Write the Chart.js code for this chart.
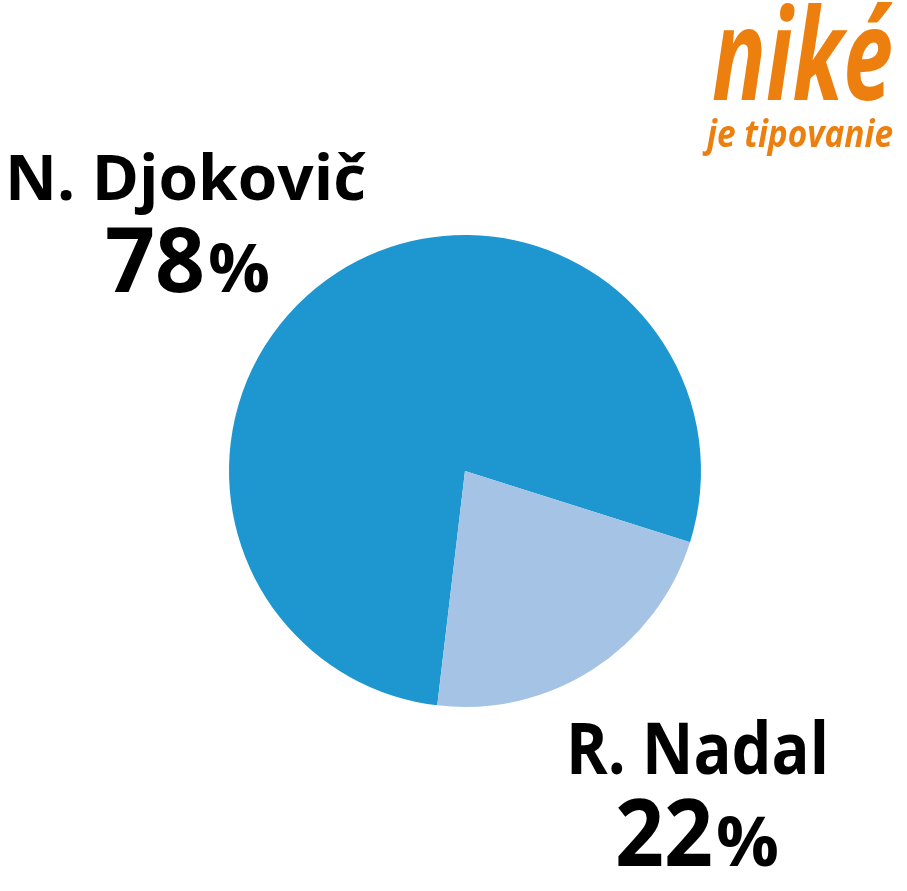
<!DOCTYPE html>
<html>
<head>
<meta charset="utf-8">
<script src="https://cdn.jsdelivr.net/npm/chart.js@4/dist/chart.umd.min.js"></script>
<style>
	html, body { margin: 0; padding: 0; background: #fff; }
	canvas { display: block; }
</style>
</head>
<body>
<canvas id="pieChart" width="907" height="891"></canvas>
<script>
// data
const players = ['N. Djokovič', 'R. Nadal'];
const shares = [78, 22];
const sliceColors = ['#1E96D0', '#A5C3E4'];

// where each label block sits (name baseline, value baseline, left edges, widths)
const labelLayout = [
	{ nameX: 5, nameY: 200, nameW: 361, nameSize: 63, numX: 105, numY: 292, numW: 100, numSize: 90, pctW: 62, pctSize: 66 },
	{ nameX: 566, nameY: 774, nameW: 263, nameSize: 71, numX: 615, numY: 866, numW: 98, numSize: 94, pctW: 63, pctSize: 68 }
];

function drawFit(ctx, text, x, y, font, width) {
	ctx.save();
	ctx.font = font;
	const w = ctx.measureText(text).width;
	ctx.translate(x, y);
	ctx.scale(width / w, 1);
	ctx.fillText(text, 0, 0);
	ctx.restore();
}

const labelsPlugin = {
	id: 'labels',
	afterDraw(chart) {
		const ctx = chart.ctx;
		ctx.save();
		ctx.fillStyle = '#000';
		ctx.textBaseline = 'alphabetic';
		ctx.textAlign = 'left';
		players.forEach((name, i) => {
			const l = labelLayout[i];
			drawFit(ctx, name, l.nameX, l.nameY, `bold ${l.nameSize}px "Open Sans"`, l.nameW);
			drawFit(ctx, String(shares[i]), l.numX, l.numY, `bold ${l.numSize}px "Open Sans"`, l.numW);
			drawFit(ctx, '%', l.numX + l.numW + 3, l.numY, `bold ${l.pctSize}px "Open Sans"`, l.pctW);
		});

		// logo
		ctx.fillStyle = '#EC7F0E';
		drawFit(ctx, 'niké', 712, 100, 'italic bold 128px "Open Sans"', 181);
		drawFit(ctx, 'je tipovanie', 707, 147, 'italic bold 37px "Open Sans"', 186);
		ctx.restore();
	}
};

let pie = document.getElementById('pieChart').getContext('2d');

let playerPie = new Chart(pie, {
	type    : 'pie',
	data    : {
		labels   : players,
		datasets : [
			{
				data            : shares,
				backgroundColor : sliceColors,
				borderWidth     : 0
			}
		]
	},
	options : {
		responsive : false,
		animation  : false,
		rotation   : 186.75,
		layout     : { padding: { left: 229, right: 206, top: 235, bottom: 184 } },
		plugins    : {
			legend  : { display: false },
			tooltip : { enabled: false }
		}
	},
	plugins : [labelsPlugin]
});
</script>
</body>
</html>
